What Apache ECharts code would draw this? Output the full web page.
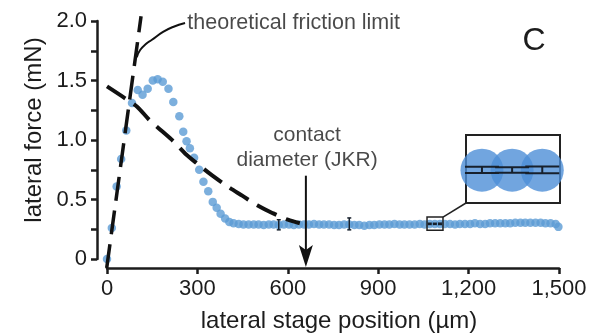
<!DOCTYPE html>
<html>
<head>
<meta charset="utf-8">
<script src="https://cdn.jsdelivr.net/npm/echarts@6/dist/echarts.min.js"></script>
<style>
  html, body { margin: 0; padding: 0; background: #fff; }
  #chart { width: 593px; height: 335px; }
</style>
</head>
<body>
<div id="chart"></div>
<script>
// Measured lateral force (mN) against lateral stage position (µm)
const stagePosition = [
  0, 16, 32, 47, 64, 83, 102, 118, 135, 152, 168, 185, 204, 220, 240, 253, 264, 275, 289,
  306, 320, 336, 351, 364, 377, 392, 406,
  420, 437, 453, 470, 487, 503, 520, 537, 553, 570, 587, 604, 620, 637, 654, 670, 687, 704,
  720, 737, 754, 770, 787, 804, 821, 837, 854, 871, 887, 904, 921, 937, 954, 971, 987, 1004,
  1021, 1038, 1054, 1071, 1088, 1105, 1121, 1138, 1155, 1171, 1188, 1205, 1221, 1238, 1255,
  1271, 1288, 1305, 1322, 1338, 1355, 1372, 1388, 1405, 1422, 1439, 1455, 1472, 1489, 1498
];
const lateralForce = [
  0.00, 0.26, 0.61, 0.84, 1.08, 1.31, 1.42, 1.38, 1.43, 1.50, 1.51, 1.49, 1.43, 1.32, 1.20, 1.07, 0.99, 0.93, 0.85,
  0.75, 0.65, 0.57, 0.48, 0.43, 0.38, 0.34, 0.31,
  0.300, 0.295, 0.290, 0.290, 0.290, 0.290, 0.285, 0.290, 0.290, 0.285, 0.290, 0.290, 0.285, 0.290, 0.290, 0.290, 0.295, 0.290,
  0.290, 0.290, 0.285, 0.285, 0.290, 0.290, 0.285, 0.285, 0.280, 0.285, 0.285, 0.290, 0.290, 0.290, 0.295, 0.290, 0.290, 0.290,
  0.290, 0.295, 0.290, 0.295, 0.295, 0.295, 0.295, 0.295, 0.290, 0.295, 0.295, 0.295, 0.300, 0.295, 0.295,
  0.300, 0.300, 0.300, 0.300, 0.300, 0.305, 0.305, 0.305, 0.305, 0.305, 0.305, 0.300, 0.300, 0.295, 0.270
];

// Error bars (position, lower and upper force)
const errorPosition = [570, 804, 1071, 1088, 1105];
const errorLow  = [0.245, 0.245, 0.2905, 0.2910, 0.2900];
const errorHigh = [0.330, 0.345, 0.3005, 0.3000, 0.3010];

// Theoretical friction limit
const limitPosition = [-1, 113];
const limitForce = [-0.076, 2.04];

// JKR contact model prediction
const jkrPosition = [0, 60, 100, 140, 180, 220, 260, 300, 350, 400, 450, 500, 550, 600, 640];
const jkrForce = [1.45, 1.35, 1.28, 1.17, 1.08, 0.99, 0.885, 0.80, 0.70, 0.61, 0.53, 0.45, 0.385, 0.33, 0.30];

// Leader from the limit line to its label
const leaderPosition = [99, 110, 132, 148, 186, 219, 259];
const leaderForce = [1.695, 1.756, 1.813, 1.840, 1.908, 1.950, 1.983];

const contactDiameter = 660;          // µm, JKR contact diameter
const zoomPosition = [1062, 1115];    // magnified window
const zoomForce = [0.242, 0.352];

const xTickLabels = ['0', '300', '600', '900', '1,200', '1,500'];
const yTickLabels = ['0', '0.5', '1.0', '1.5', '2.0'];
const xTitle = 'lateral stage position (µm)';
const yTitle = 'lateral force (mN)';

const FONT = '"Liberation Sans", Arial, Helvetica, sans-serif';
const INK = '#1c1c1c';
const BLUE = '#5b9bd5';

const pairs = (xs, ys) => xs.map((x, i) => [x, ys[i]]);
const inset = { left: 466, top: 135, width: 94, height: 68 };

function errorBarRenderer(capWidth, lineWidth) {
  return function (params, api) {
    const x = api.value(0);
    const lo = api.coord([x, api.value(1)]);
    const hi = api.coord([x, api.value(2)]);
    const w = capWidth / 2;
    const style = { stroke: '#17202c', lineWidth: lineWidth };
    return {
      type: 'group',
      children: [
        { type: 'line', shape: { x1: lo[0], y1: lo[1], x2: hi[0], y2: hi[1] }, style },
        { type: 'line', shape: { x1: lo[0] - w, y1: lo[1], x2: lo[0] + w, y2: lo[1] }, style },
        { type: 'line', shape: { x1: hi[0] - w, y1: hi[1], x2: hi[0] + w, y2: hi[1] }, style }
      ]
    };
  };
}

const chart = echarts.init(document.getElementById('chart'), null, { renderer: 'canvas' });

const errData = errorPosition.map((x, i) => [x, errorLow[i], errorHigh[i]]);
const insetPoints = pairs(stagePosition, lateralForce)
  .filter(p => p[0] >= zoomPosition[0] && p[0] <= zoomPosition[1]);
const insetErr = errData.filter(p => p[0] >= zoomPosition[0] && p[0] <= zoomPosition[1]);

const axisCommon = {
  axisLine: { show: true, onZero: false, lineStyle: { color: INK, width: 2.5 } },
  axisTick: { show: true, length: 6, lineStyle: { color: INK, width: 2.5 } },
  splitLine: { show: false }
};

chart.setOption({
  animation: false,
  backgroundColor: '#fff',
  textStyle: { fontFamily: FONT, color: INK },
  grid: [
    { left: 107, width: 452, top: 21, height: 238, outerBoundsMode: 'none' },
    { left: inset.left, top: inset.top, width: inset.width, height: inset.height, outerBoundsMode: 'none',
      show: true, borderColor: '#222', borderWidth: 2, backgroundColor: 'rgba(0,0,0,0)' }
  ],
  xAxis: [
    Object.assign({
      type: 'value', gridIndex: 0, min: 0, max: 1500, interval: 300, offset: 9,
      axisLabel: { fontSize: 22, color: INK, fontFamily: FONT, margin: 10,
        formatter: v => xTickLabels[Math.round(v / 300)] }
    }, axisCommon),
    { type: 'value', gridIndex: 1, min: zoomPosition[0], max: zoomPosition[1], show: false }
  ],
  yAxis: [
    Object.assign({
      type: 'value', gridIndex: 0, min: 0, max: 2, interval: 0.25, offset: 10,
      axisLabel: { fontSize: 22, color: INK, fontFamily: FONT, margin: 10,
        formatter: v => {
          const k = Math.round(v / 0.5);
          return Math.abs(v - k * 0.5) < 1e-6 ? yTickLabels[k] : '';
        } }
    }, axisCommon),
    { type: 'value', gridIndex: 1, min: zoomForce[0], max: zoomForce[1], show: false }
  ],
  graphic: [
    { type: 'text', x: 339, y: 321,
      style: { text: xTitle, fontSize: 24, fontFamily: FONT, fill: INK, textAlign: 'center', textVerticalAlign: 'middle' } },
    { type: 'text', x: 34, y: 130, rotation: Math.PI / 2,
      style: { text: yTitle, fontSize: 24, fontFamily: FONT, fill: INK, textAlign: 'center', textVerticalAlign: 'middle' } },
    { type: 'text', x: 534, y: 41,
      style: { text: 'C', fontSize: 32, fontFamily: FONT, fill: INK, textAlign: 'center', textVerticalAlign: 'middle' } }
  ],
  series: [
    {
      name: 'lateral force', type: 'scatter', xAxisIndex: 0, yAxisIndex: 0,
      data: pairs(stagePosition, lateralForce),
      symbol: 'circle', symbolSize: 8.5, itemStyle: { color: BLUE }, z: 2
    },
    {
      name: 'error', type: 'custom', xAxisIndex: 0, yAxisIndex: 0, clip: false,
      data: errData, renderItem: errorBarRenderer(4, 1.5), z: 3
    },
    {
      name: 'theoretical friction limit', type: 'line', xAxisIndex: 0, yAxisIndex: 0,
      data: pairs(limitPosition, limitForce), symbol: 'none', clip: false, z: 4,
      lineStyle: { color: '#111', width: 3.5, type: [24, 10] }
    },
    {
      name: 'JKR', type: 'line', xAxisIndex: 0, yAxisIndex: 0,
      data: pairs(jkrPosition, jkrForce), symbol: 'none', smooth: 0.3, clip: false, z: 4,
      lineStyle: { color: '#111', width: 4, type: [22, 10] }
    },
    {
      name: 'leader', type: 'line', xAxisIndex: 0, yAxisIndex: 0,
      data: pairs(leaderPosition, leaderForce), symbol: 'none', smooth: true, clip: false, z: 4,
      lineStyle: { color: '#111', width: 2 }
    },
    {
      name: 'contact diameter', type: 'custom', xAxisIndex: 0, yAxisIndex: 0, clip: false, z: 5,
      data: [[contactDiameter, 0.70, -0.067]],
      renderItem: (params, api) => {
        const top = api.coord([api.value(0), api.value(1)]);
        const tip = api.coord([api.value(0), api.value(2)]);
        const headLen = 22, half = 7, notch = 5;
        return {
          type: 'group',
          children: [
            { type: 'line', shape: { x1: top[0], y1: top[1], x2: tip[0], y2: tip[1] - headLen + notch },
              style: { stroke: '#111', lineWidth: 2 } },
            { type: 'polygon',
              shape: { points: [[tip[0], tip[1]], [tip[0] - half, tip[1] - headLen],
                                [tip[0], tip[1] - headLen + notch], [tip[0] + half, tip[1] - headLen]] },
              style: { fill: '#111' } }
          ]
        };
      }
    },
    {
      name: 'zoom frame', type: 'custom', xAxisIndex: 0, yAxisIndex: 0, clip: false, z: 5,
      data: [[zoomPosition[0], zoomForce[0], zoomPosition[1], zoomForce[1]]],
      renderItem: (params, api) => {
        const a = api.coord([api.value(0), api.value(3)]);
        const b = api.coord([api.value(2), api.value(1)]);
        return {
          type: 'group',
          children: [
            { type: 'rect', shape: { x: a[0], y: a[1], width: b[0] - a[0], height: b[1] - a[1] },
              style: { fill: 'none', stroke: '#222', lineWidth: 1.5 } },
            { type: 'line', shape: { x1: b[0], y1: a[1], x2: inset.left, y2: inset.top + inset.height },
              style: { stroke: '#222', lineWidth: 1.5 } }
          ]
        };
      }
    },
    {
      name: 'annotations', type: 'scatter', xAxisIndex: 0, yAxisIndex: 0, silent: true,
      symbolSize: 1, itemStyle: { color: 'rgba(0,0,0,0)' }, z: 6,
      data: [
        { value: [265, 1.985], label: { show: true, position: 'right', distance: 0,
            formatter: 'theoretical friction limit', fontSize: 21.5, color: INK, fontFamily: FONT } },
        { value: [664, 0.937], label: { show: true, position: 'inside', align: 'center', lineHeight: 25,
            formatter: 'contact\ndiameter (JKR)', fontSize: 21, color: INK, fontFamily: FONT } }
      ]
    },
    {
      name: 'magnified', type: 'scatter', xAxisIndex: 1, yAxisIndex: 1, clip: false,
      data: insetPoints, symbol: 'circle', symbolSize: 43, itemStyle: { color: '#4d8fd7' }, z: 2
    },
    {
      name: 'magnified error', type: 'custom', xAxisIndex: 1, yAxisIndex: 1, clip: false,
      data: insetErr, renderItem: errorBarRenderer(34, 2), z: 3
    }
  ]
});
</script>
</body>
</html>
